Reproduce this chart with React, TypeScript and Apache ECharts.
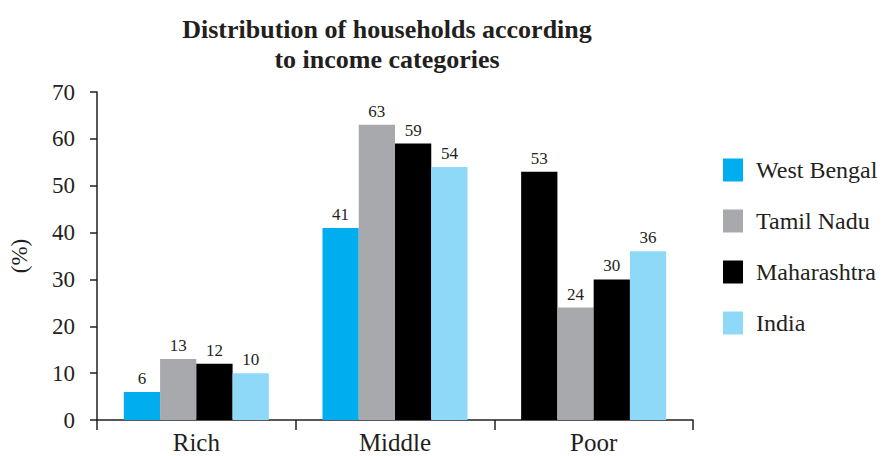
import React, { useEffect, useRef } from "react";
import * as echarts from "echarts";

const categories = ["Rich", "Middle", "Poor"];
const seriesNames = ["West Bengal", "Tamil Nadu", "Maharashtra", "India"];
const westBengal = [6, 41, 53];
const tamilNadu = [13, 63, 24];
const maharashtra = [12, 59, 30];
const india = [10, 54, 36];
const yTicks = [0, 10, 20, 30, 40, 50, 60, 70];

const colors = ["#00AEEF", "#A7A9AC", "#000000", "#8ED8F8"];
const FONT = "Liberation Serif, Times New Roman, serif";

export default function App() {
  const ref = useRef<HTMLDivElement>(null);
  useEffect(() => {
    if (!ref.current) return;
    const chart = echarts.init(ref.current, undefined, { renderer: "svg" });
    const values = [westBengal, tamilNadu, maharashtra, india];
    const series = seriesNames.map((name, si) => ({
      name,
      type: "bar",
      barGap: "0%",
      barCategoryGap: "27%",
      data: values[si].map((v, ci) =>
        // In the original figure the West Bengal bar for "Poor" is drawn black
        si === 0 && ci === 2 ? { value: v, itemStyle: { color: "#000000" } } : v
      ),
      itemStyle: { color: colors[si] },
      label: {
        show: true,
        position: "top",
        distance: 5,
        color: "#231F20",
        fontFamily: FONT,
        fontSize: 17,
      },
    }));
    chart.setOption({
      animation: false,
      color: colors,
      textStyle: { fontFamily: FONT },
      title: {
        text: "Distribution of households according\nto income categories",
        left: 382,
        textAlign: "center",
        top: 9,
        textStyle: {
          fontFamily: FONT,
          fontSize: 26,
          fontWeight: "bold",
          color: "#231F20",
          lineHeight: 30,
        },
      },
      legend: {
        orient: "vertical",
        left: 718,
        top: 153,
        itemWidth: 20,
        itemHeight: 23,
        itemGap: 27,
        icon: "rect",
        data: seriesNames,
        textStyle: { fontFamily: FONT, fontSize: 24, color: "#231F20", padding: [0, 0, 0, 8] },
      },
      grid: { left: 97, right: 190, top: 92, bottom: 36, containLabel: false },
      xAxis: {
        type: "category",
        data: categories,
        axisLine: { lineStyle: { color: "#231F20", width: 1.5 } },
        axisTick: { show: true, length: 10, lineStyle: { color: "#231F20", width: 1.5 } },
        axisLabel: { fontFamily: FONT, fontSize: 25, color: "#231F20", margin: 10 },
      },
      yAxis: {
        type: "value",
        min: yTicks[0],
        max: yTicks[yTicks.length - 1],
        interval: 10,
        name: "(%)",
        nameLocation: "middle",
        nameGap: 66,
        nameRotate: 90,
        nameTextStyle: { fontFamily: FONT, fontSize: 23, color: "#231F20" },
        axisLine: { show: true, lineStyle: { color: "#231F20", width: 1.5 } },
        axisTick: { show: true, length: 7, lineStyle: { color: "#231F20", width: 1.5 } },
        axisLabel: { fontFamily: FONT, fontSize: 23, color: "#231F20", margin: 22 },
        splitLine: { show: false },
      },
      series,
    });
    return () => chart.dispose();
  }, []);
  return <div ref={ref} style={{ width: 883, height: 456, position: "absolute", left: 0, top: 0 }} />;
}
